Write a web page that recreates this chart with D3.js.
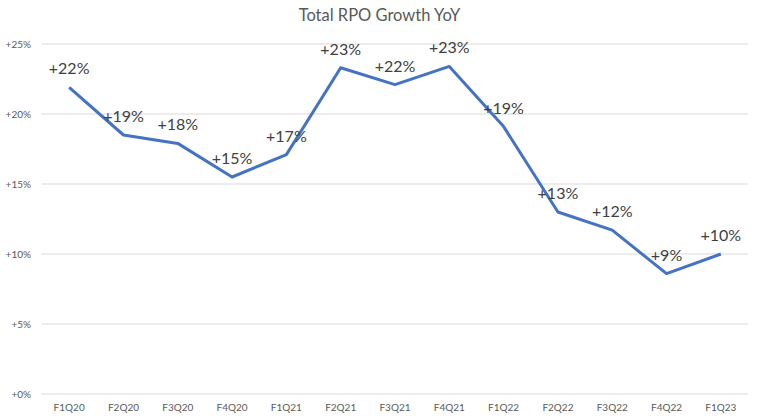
<!DOCTYPE html>
<html>
<head>
<meta charset="utf-8">
<title>Total RPO Growth YoY</title>
<script src="https://d3js.org/d3.v7.min.js"></script>
<style>
  body { margin: 0; background: #fff; }
  svg { display: block; font-family: Lato, "Open Sans", sans-serif; }
</style>
</head>
<body>
<script>
// quarters and YoY growth (%)
var quarters = ["F1Q20", "F2Q20", "F3Q20", "F4Q20", "F1Q21", "F2Q21", "F3Q21",
                "F4Q21", "F1Q22", "F2Q22", "F3Q22", "F4Q22", "F1Q23"];
var growth = [21.9, 18.5, 17.9, 15.5, 17.1, 23.3, 22.1, 23.4, 19.1, 13.0, 11.7, 8.6, 10.0];
var labels = ["+22%", "+19%", "+18%", "+15%", "+17%", "+23%", "+22%", "+23%", "+19%",
              "+13%", "+12%", "+9%", "+10%"];
var yTicks = [0, 5, 10, 15, 20, 25];

var W = 759, H = 419;
var margin = { top: 44, right: 11, bottom: 25, left: 42 };
var width = W - margin.left - margin.right,
    height = H - margin.top - margin.bottom;

var svg = d3.select("body").append("svg")
    .attr("width", W).attr("height", H);

// title
svg.append("text")
    .attr("x", W / 2).attr("y", 21)
    .attr("text-anchor", "middle")
    .attr("font-size", 16.5)
    .attr("fill", "#595959")
    .text("Total RPO Growth YoY");

var g = svg.append("g")
    .attr("transform", "translate(" + margin.left + "," + margin.top + ")");

var x = d3.scaleBand().domain(quarters).range([0, width]);
var y = d3.scaleLinear().domain([0, 25]).range([height, 0]);

// gridlines
g.selectAll(".grid").data(yTicks).enter().append("line")
    .attr("x1", 0).attr("x2", width)
    .attr("y1", function (d) { return y(d); })
    .attr("y2", function (d) { return y(d); })
    .attr("stroke", "#d9d9d9").attr("stroke-width", 1);

// y axis labels
var yAxis = g.append("g")
    .call(d3.axisLeft(y).tickValues(yTicks).tickSize(0).tickPadding(11)
      .tickFormat(function (d) { return "+" + d + "%"; }));
yAxis.select(".domain").remove();
yAxis.selectAll("text").attr("font-size", 10).attr("fill", "#595959")
    .attr("font-family", "Lato, 'Open Sans', sans-serif");

// x axis labels
var xAxis = g.append("g")
    .attr("transform", "translate(0," + height + ")")
    .call(d3.axisBottom(x).tickSize(0).tickPadding(10));
xAxis.select(".domain").remove();
xAxis.selectAll("text").attr("font-size", 10).attr("fill", "#595959")
    .attr("font-family", "Lato, 'Open Sans', sans-serif");

var pts = quarters.map(function (q, i) { return { q: q, v: growth[i], l: labels[i] }; });

// line
g.append("path")
    .datum(pts)
    .attr("fill", "none")
    .attr("stroke", "#4472C4")
    .attr("stroke-width", 3)
    .attr("stroke-linejoin", "round")
    .attr("d", d3.line()
        .x(function (d) { return x(d.q) + x.bandwidth() / 2; })
        .y(function (d) { return y(d.v); }));

// data labels
g.selectAll(".lbl").data(pts).enter().append("text")
    .attr("x", function (d) { return x(d.q) + x.bandwidth() / 2; })
    .attr("y", function (d) { return y(d.v) - 13; })
    .attr("text-anchor", "middle")
    .attr("font-size", 16)
    .attr("fill", "#404040")
    .text(function (d) { return d.l; });
</script>
</body>
</html>
